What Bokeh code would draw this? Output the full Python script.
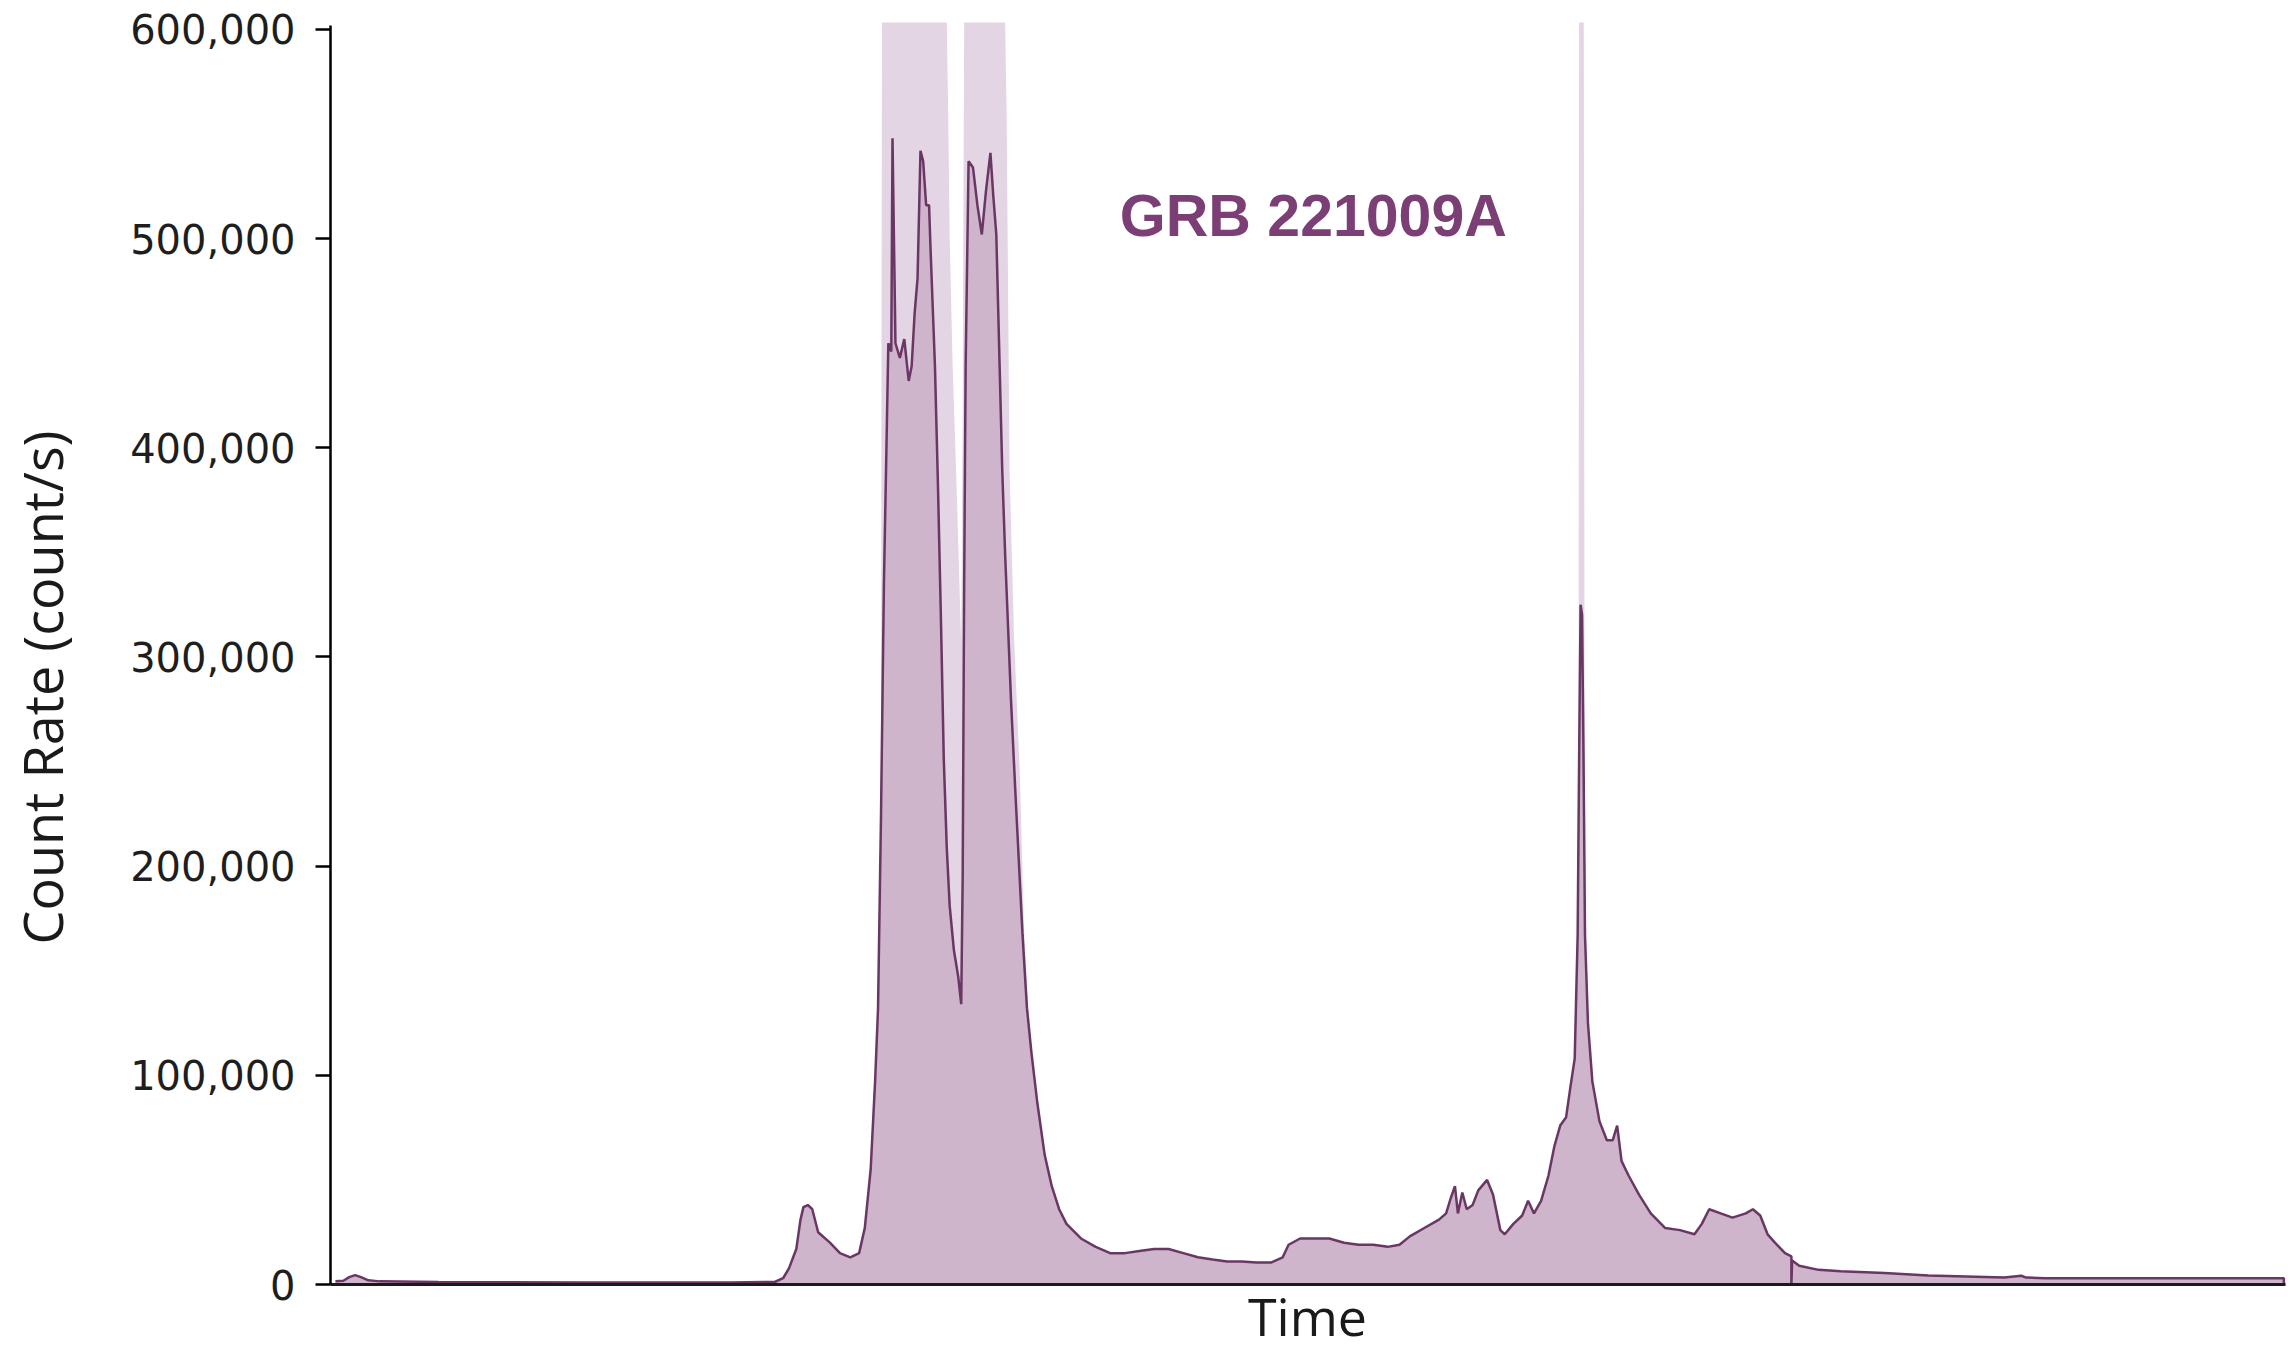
from bokeh.plotting import figure
from bokeh.models import Label, FixedTicker, NumeralTickFormatter, Range1d
from bokeh.embed import file_html
from bokeh.resources import INLINE

# ---- data (time in s relative to trigger, count rate in count/s) ----
time_s = [-8.0, -4.8, -2.4, 0.0, 2.4, 5.4, 10.0, 34.0, 93.0, 153.0, 171.0, 174.4, 176.8,
          179.8, 181.5, 182.7, 184.5, 186.3, 188.7, 193.5, 197.6, 201.8, 205.4, 207.7,
          210.1, 211.9, 213.1, 214.3, 215.5, 216.7, 217.3, 218.5, 219.0, 220.2, 222.0,
          223.8, 225.6, 226.8, 228.0, 229.2, 230.4, 231.5, 232.7, 233.9, 234.5, 236.3,
          237.5, 238.7, 239.9, 241.1, 242.3, 244.0, 245.8, 247.0, 247.6, 248.2, 248.8,
          250.0, 251.8, 253.6, 255.4, 257.1, 258.9, 260.1, 261.3, 262.5, 263.7, 264.9,
          266.1, 267.3, 269.0, 270.8, 272.0, 273.8, 275.6, 278.0, 281.0, 283.9, 286.9,
          289.9, 295.8, 301.8, 307.7, 313.7, 319.6, 325.6, 331.5, 337.5, 343.5, 349.4,
          355.4, 361.3, 367.3, 373.2, 378.0, 380.4, 385.1, 391.1, 397.0, 403.0, 408.9,
          414.9, 420.8, 425.6, 429.8, 435.7, 441.7, 444.6, 446.4, 448.2, 449.4, 451.2,
          453.0, 455.4, 457.7, 461.3, 463.7, 466.7, 468.5, 472.0, 475.6, 478.0, 480.4,
          483.3, 486.3, 488.7, 491.1, 493.5, 495.2, 497.0, 498.2, 498.8, 499.4, 500.0,
          500.6, 501.2, 502.4, 504.2, 507.1, 510.1, 512.5, 514.3, 516.1, 519.0, 523.2,
          528.0, 533.9, 539.9, 545.8, 548.8, 551.8, 556.5, 561.3, 566.7, 569.6, 572.6,
          575.6, 578.6, 582.7, 585.3, 585.3, 585.6, 588.5, 596.4, 605.4, 623.2, 641.1,
          672.0, 679.0, 681.0, 688.7, 786.0, 786.0]
count_rate = [1500, 1800, 3500, 4500, 3500, 2000, 1500, 1200, 1000, 1000, 1200, 3000, 7700,
              17000, 31000, 37000, 38000, 36000, 25000, 20000, 15000, 13000, 15000, 27000,
              55000, 97000, 132000, 223000, 335000, 411000, 450000, 446000, 548000, 450000, 443000,
              452000, 432000, 439000, 464000, 481000, 542000, 537000, 516000, 516000, 495000, 439000,
              383000, 320000, 251000, 209000, 181000, 160000, 147000, 134000, 195000, 335000, 439000,
              537000, 534000, 516000, 502000, 523000, 541000, 520000, 502000, 446000, 390000, 349000,
              314000, 279000, 237000, 195000, 167000, 132000, 111000, 87000, 62000, 47000, 36000,
              29000, 22000, 18000, 15000, 15000, 16000, 17000, 17000, 15000, 13000, 12000,
              11000, 11000, 10500, 10500, 13000, 19000, 22000, 22000, 22000, 20000, 19000,
              19000, 18000, 19000, 23000, 27000, 31000, 34000, 41000, 47000, 34000, 44000,
              36000, 38000, 45000, 50000, 43000, 26000, 24000, 29000, 33000, 40000, 34000,
              40000, 52000, 66000, 76000, 80000, 94000, 108000, 167000, 251000, 325000, 320000,
              251000, 167000, 125000, 97000, 78000, 69000, 69000, 76000, 59000, 52000, 43000,
              34000, 27000, 26000, 24000, 29000, 36000, 34000, 32000, 34000, 36000, 33000,
              24000, 20000, 15000, 13500, 0, 11500, 9000, 7000, 6300, 5500, 4300,
              3300, 4200, 3300, 3000, 3000, 0]

# dead-time corrected (lighter) envelope around the saturated pulses (clipped at plot top)
light_time_1 = [213.1, 214.3, 214.7, 241.1, 241.7, 242.3, 243.5, 245.2, 247.0, 247.6, 248.2,
                264.9, 265.5, 266.7, 268.5, 270.8, 272.6, 275.0]
light_rate_1 = [132000, 250000, 603300, 603300, 560000, 500000, 440000, 378000, 306000, 420000,
                603300, 603300, 560000, 390000, 310000, 247000, 170000, 115000]
light_time_2 = [498.0, 498.6, 498.8, 500.7, 501.0, 501.4]
light_rate_2 = [150000, 300000, 603300, 603300, 300000, 160000]

y_ticks = [0, 100000, 200000, 300000, 400000, 500000, 600000]

title_text = "GRB 221009A"
x_label = "Time"
y_label = "Count Rate (count/s)"

# ---- figure ----
p = figure(width=2291, height=1355, output_backend="svg", toolbar_location=None,
           x_range=Range1d(-144.5, 789.1), y_range=Range1d(-33940, 613860),
           min_border=0, min_border_left=0, min_border_right=0,
           min_border_top=0, min_border_bottom=0)
p.outline_line_color = None
p.xgrid.visible = False
p.ygrid.visible = False
p.background_fill_color = "white"
p.border_fill_color = "white"

light_fill = "#e3d5e3"
dark_fill = "#cfb5cb"
dark_line = "#6a3664"

p.varea(x=light_time_1, y1=0, y2=light_rate_1, fill_color=light_fill)
p.varea(x=light_time_2, y1=0, y2=light_rate_2, fill_color=light_fill)
p.varea(x=time_s, y1=0, y2=count_rate, fill_color=dark_fill)
p.line(x=time_s, y=count_rate, line_color=dark_line, line_width=2.5)

# axes, pinned at the data origin
p.yaxis.fixed_location = -10
p.yaxis.bounds = (0, 602000)
p.yaxis.ticker = FixedTicker(ticks=y_ticks)
p.yaxis.formatter = NumeralTickFormatter(format="0,0")
p.yaxis.major_label_text_font = "DejaVu Sans"
p.yaxis.major_label_text_font_size = "40px"
p.yaxis.major_label_text_color = "#1e1e1e"
p.yaxis.major_label_standoff = 20
p.yaxis.major_tick_out = 15
p.yaxis.major_tick_in = 0
p.yaxis.major_tick_line_width = 2.5
p.yaxis.major_tick_line_color = "black"
p.yaxis.minor_tick_line_color = None
p.yaxis.axis_line_width = 2.5
p.yaxis.axis_line_color = "black"

p.xaxis.fixed_location = 0
p.xaxis.bounds = (-10, 786.5)
p.xaxis.ticker = FixedTicker(ticks=[])
p.xaxis.major_tick_out = 0
p.xaxis.major_tick_in = 0
p.xaxis.minor_tick_line_color = None
p.xaxis.major_label_standoff = 0
p.xaxis.axis_line_width = 3
p.xaxis.axis_line_color = "#1a1a1a"

# texts
p.add_layout(Label(x=390.5, y=510600, text=title_text, text_font="Liberation Sans",
                   text_font_style="bold", text_font_size="59px", text_color="#7b3f76",
                   text_align="center", text_baseline="alphabetic"))
p.add_layout(Label(x=388.1, y=-15000, text=x_label, text_font="Open Sans",
                   text_font_size="52px", text_color="#1a1a1a",
                   text_align="center", text_baseline="alphabetic"))
p.add_layout(Label(x=-127.4, y=285400, text=y_label, text_font="Open Sans",
                   text_font_size="54px", text_color="#1a1a1a", angle=1.5708,
                   text_align="center", text_baseline="alphabetic"))

open("out.html", "w").write(file_html(p, INLINE))
